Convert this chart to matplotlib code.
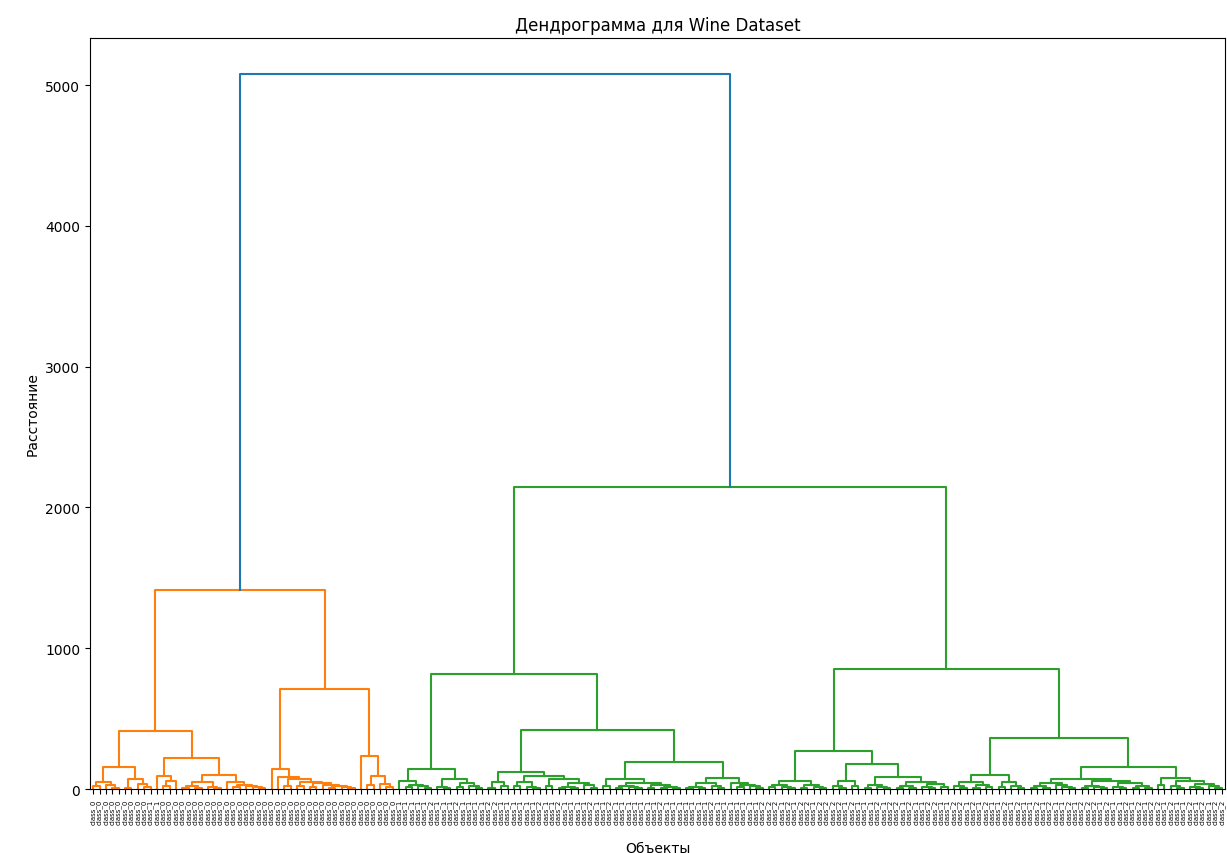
import matplotlib
matplotlib.use("Agg")
import matplotlib.pyplot as plt

# Hierarchical tree: a node is (merge_height, left, right), a leaf is 0.
ROOT_HEIGHT = 5080
ORANGE_HEIGHT = 1415
GREEN_HEIGHT = 2147
GREEN_LEFT_HEIGHT = 818
GREEN_RIGHT_HEIGHT = 853

ORANGE_LEFT = (412,
               (154,
                (52, (22, 0, 0), (30, 0, (10, 0, 0))),
                (71, (8, 0, 0), (38, 0, (16, 0, 0)))),
               (218,
                (90, 0, (58, (25, 0, 0), 0)),
                (100,
                 (50, (25, (10, 0, 0), (8, 0, 0)), (18, 0, (8, 0, 0))),
                 (48, 0, (30, (12, 0, 0), (22, 0, (15, 0, (8, 0, 0))))))))

ORANGE_RIGHT = (711,
                (140, 0, (83, 0, (71, (20, 0, 0),
                                  (52, (25, 0, 0),
                                   (40, (18, 0, 0),
                                    (30, 0, (22, (10, 0, 0), (12, 0, (5, 0, 0))))))))),
                (237, 0, (95, (30, 0, 0), (35, 0, (15, 0, 0)))))

GREEN_A = (142,
           (59, 0, (30, (15, 0, 0), (20, 0, (8, 0, 0)))),
           (71, (12, 0, (5, 0, 0)), (45, (15, 0, 0), (25, 0, (10, 0, 0)))))

GREEN_B = (420,
           (119,
            (52, (10, 0, 0), (20, 0, 0)),
            (95,
             (50, (20, 0, 0), (15, 0, (6, 0, 0))),
             (71, (25, 0, 0), (40, (18, (6, 0, 0), (8, 0, 0)), (30, 0, (10, 0, 0)))))),
           (190,
            (71, (20, 0, 0),
             (45, (25, (8, 0, 0), (12, 0, (4, 0, 0))),
              (30, (10, 0, 0), (18, (6, 0, 0), (9, 0, 0))))),
            (76,
             (40, (15, (5, 0, 0), (8, 0, 0)), (20, 0, (10, 0, 0))),
             (45, 0, (30, (12, 0, 0), (20, 0, (6, 0, 0)))))))

GREEN_C = (268,
           (59, (28, (12, 0, 0), (16, 0, (6, 0, 0))), (30, (10, 0, 0), (18, 0, (8, 0, 0)))),
           (178,
            (59, (20, 0, (8, 0, 0)), (25, 0, 0)),
            (83, (30, (10, 0, 0), (15, 0, (5, 0, 0))),
             (50, (20, (8, 0, 0), (10, 0, 0)), (35, (12, 0, (4, 0, 0)), (15, 0, 0))))))

GREEN_D = (360,
           (100,
            (52, (20, 0, (8, 0, 0)), (30, (10, 0, 0), (14, 0, 0))),
            (52, (18, 0, 0), (25, 0, (10, 0, 0)))),
           (154,
            (71,
             (45, (20, (6, 0, 0), (10, 0, 0)), (30, 0, (12, 0, (5, 0, 0)))),
             (55, (25, (10, 0, 0), (15, 0, (6, 0, 0))),
              (40, (18, 0, (8, 0, 0)), (20, (8, 0, 0), (10, 0, 0))))),
            (76, (30, 0, 0),
             (55, (25, 0, (10, 0, 0)), (35, (15, 0, (6, 0, 0)), (20, 0, (8, 0, 0)))))))

# wine class of each leaf, left to right
ORANGE_CLASSES = ("0000000001" "1000000000" "0000000000" "0000000000"
                  "00000000")
GREEN_LEFT_CLASSES = ("1111121112" "1111221111" "1121121111" "2112111111"
                      "1211111112" "11111112")
GREEN_RIGHT_CLASSES = ("2212122122" "2212111212" "2121122112" "2121211212"
                       "1121211212" "2212112121" "2212112121" "22")

CLASS_NAMES = ["class_0", "class_1", "class_2"]

ORANGE = (ORANGE_HEIGHT, ORANGE_LEFT, ORANGE_RIGHT)
GREEN = (GREEN_HEIGHT, (GREEN_LEFT_HEIGHT, GREEN_A, GREEN_B),
         (GREEN_RIGHT_HEIGHT, GREEN_C, GREEN_D))

ABOVE_COLOR = "C0"
CLUSTER_COLORS = ["C1", "C2"]

links = []
leaf_x = []


def walk(node, color):
    # returns (x, height) of the node, records the U-shaped link
    if node == 0:
        x = 10 * len(leaf_x) + 5
        leaf_x.append(x)
        return x, 0.0
    h, left, right = node
    xl, hl = walk(left, color)
    xr, hr = walk(right, color)
    links.append(([xl, xl, xr, xr], [hl, h, h, hr], color))
    return (xl + xr) / 2, h


xo, ho = walk(ORANGE, CLUSTER_COLORS[0])
xg, hg = walk(GREEN, CLUSTER_COLORS[1])
links.append(([xo, xo, xg, xg], [ho, ROOT_HEIGHT, ROOT_HEIGHT, hg], ABOVE_COLOR))

n_leaves = len(leaf_x)
classes = ORANGE_CLASSES + GREEN_LEFT_CLASSES + GREEN_RIGHT_CLASSES
leaf_labels = [CLASS_NAMES[int(c)] for c in classes]

fig = plt.figure(figsize=(12.27, 8.54), dpi=100)
ax = fig.add_axes([0.0733, 0.0749, 0.9251, 0.8794])

for xs, ys, c in links:
    ax.plot(xs, ys, color=c, linewidth=1.5)

ax.set_xlim(0, 10 * n_leaves)
ax.set_ylim(0, ROOT_HEIGHT * 1.05)
ax.set_xticks(leaf_x)
ax.set_xticklabels(leaf_labels, rotation=90, fontsize=5)
ax.set_yticks([0, 1000, 2000, 3000, 4000, 5000])

ax.set_title("Дендрограмма для Wine Dataset")
ax.set_xlabel("Объекты", labelpad=12)
ax.set_ylabel("Расстояние")

fig.savefig("out.png", dpi=100)
